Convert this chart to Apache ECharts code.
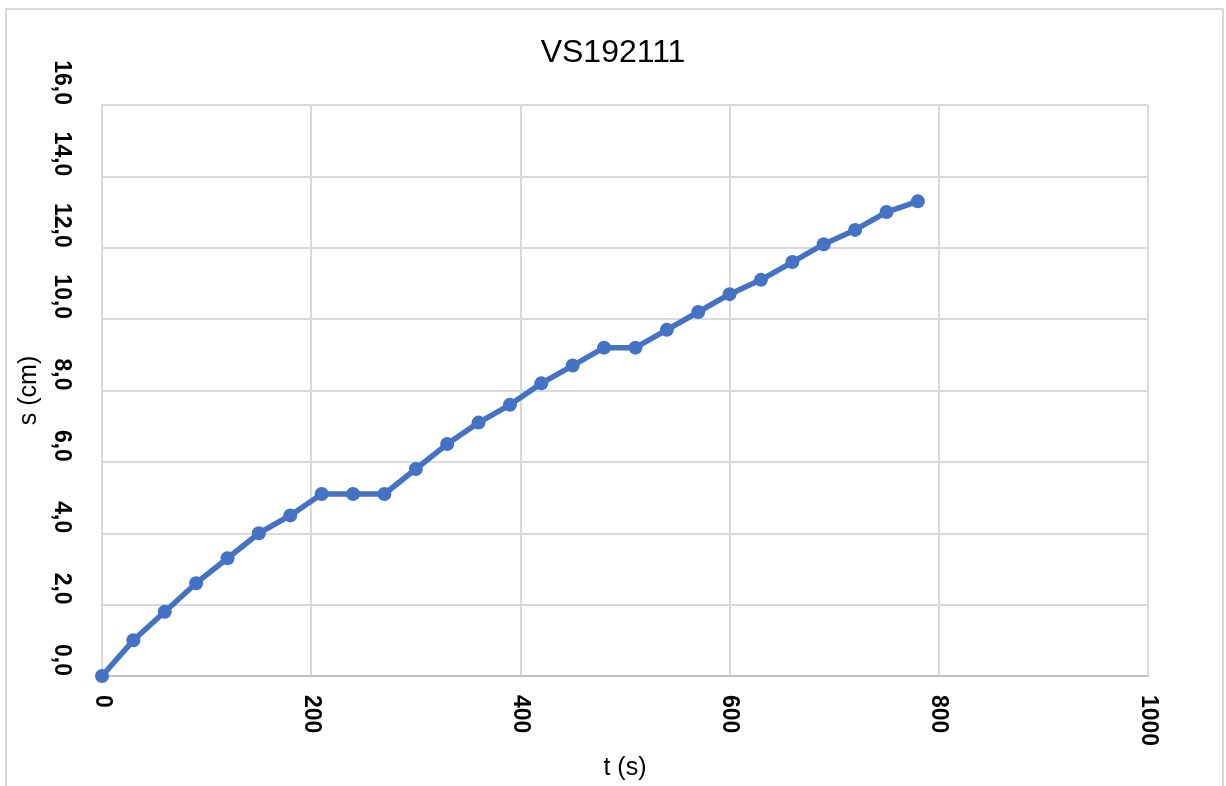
<!DOCTYPE html>
<html>
<head>
<meta charset="utf-8">
<script src="https://cdn.jsdelivr.net/npm/echarts@6/dist/echarts.min.js"></script>
<style>
  html, body { margin: 0; padding: 0; background: #fff; }
  #main { width: 1226px; height: 786px; }
</style>
</head>
<body>
<div id="main"></div>
<script>
// tijd (s) en afstand (cm)
var times = [0, 30, 60, 90, 120, 150, 180, 210, 240, 270, 300, 330, 360, 390,
             420, 450, 480, 510, 540, 570, 600, 630, 660, 690, 720, 750, 780];
var distances = [0.0, 1.0, 1.8, 2.6, 3.3, 4.0, 4.5, 5.1, 5.1, 5.1, 5.8, 6.5, 7.1, 7.6,
                 8.2, 8.7, 9.2, 9.2, 9.7, 10.2, 10.7, 11.1, 11.6, 12.1, 12.5, 13.0, 13.3];

var points = times.map(function (t, i) { return [t, distances[i]]; });

var myChart = echarts.init(document.getElementById('main'));
myChart.setOption({
    animation: false,
    title: {
        text: 'VS192111',
        left: 'center',
        top: 32,
        textStyle: { fontFamily: 'Liberation Sans', fontSize: 32, fontWeight: 'normal', color: '#000' }
    },
    graphic: [{
        type: 'rect',
        shape: { x: 6, y: 9, width: 1217, height: 778 },
        style: { fill: null, stroke: '#d9d9d9', lineWidth: 2 },
        silent: true
    }],
    grid: { left: 102, top: 105, right: 78, bottom: 99 },
    xAxis: {
        type: 'value',
        min: 0,
        max: 1000,
        interval: 200,
        name: 't (s)',
        nameLocation: 'middle',
        nameGap: 80,
        nameTextStyle: { fontFamily: 'Liberation Sans', fontSize: 25, color: '#000' },
        axisLine: { lineStyle: { color: '#bfbfbf', width: 2 } },
        axisTick: { show: false },
        splitLine: { lineStyle: { color: '#d9d9d9', width: 2 } },
        axisLabel: {
            rotate: -90,
            align: 'left',
            verticalAlign: 'middle',
            margin: 19,
            fontFamily: 'Liberation Sans',
            fontSize: 23,
            fontWeight: 'bold',
            color: '#000',
            formatter: function (v) { return String(v); }
        }
    },
    yAxis: {
        type: 'value',
        min: 0,
        max: 16,
        interval: 2,
        name: 's (cm)',
        nameLocation: 'middle',
        nameGap: 60,
        nameTextStyle: { fontFamily: 'Liberation Sans', fontSize: 25, color: '#000' },
        axisLine: { show: true, lineStyle: { color: '#d9d9d9', width: 2 } },
        axisTick: { show: false },
        splitLine: { lineStyle: { color: '#d9d9d9', width: 2 } },
        axisLabel: {
            rotate: -90,
            align: 'right',
            verticalAlign: 'top',
            margin: 29,
            fontFamily: 'Liberation Sans',
            fontSize: 23,
            fontWeight: 'bold',
            color: '#000',
            formatter: function (v) { return v.toFixed(1).replace('.', ','); }
        }
    },
    series: [{
        type: 'line',
        data: points,
        symbol: 'circle',
        symbolSize: 14,
        lineStyle: { color: '#4472c4', width: 5.5 },
        itemStyle: { color: '#4472c4' }
    }]
});
</script>
</body>
</html>
